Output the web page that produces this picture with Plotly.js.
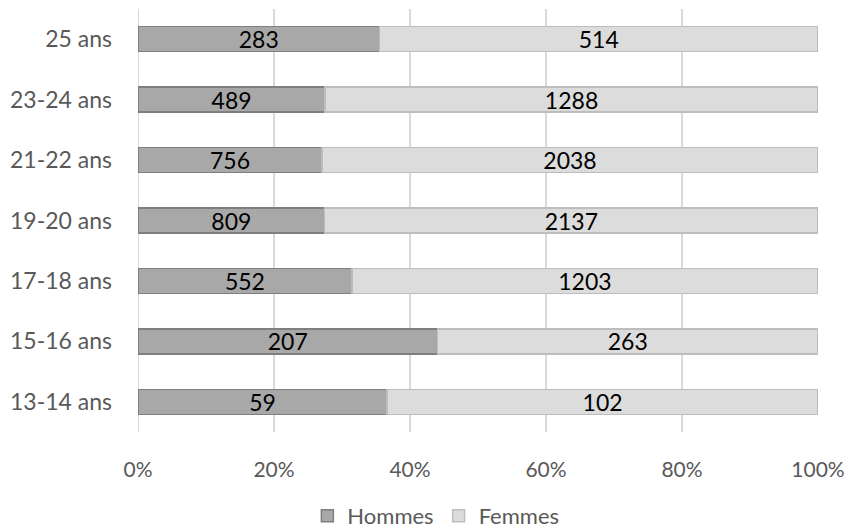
<!DOCTYPE html>
<html>
<head>
<meta charset="utf-8">
<script src="https://cdn.plot.ly/plotly-3.0.1.min.js"></script>
<style>html,body{margin:0;padding:0;background:#fff;}#chart{width:848px;height:532px;}</style>
</head>
<body>
<div id="chart"></div>
<script>
const categories = ["13-14 ans", "15-16 ans", "17-18 ans", "19-20 ans", "21-22 ans", "23-24 ans", "25 ans"];
const hommes = [59, 207, 552, 809, 756, 489, 283];
const femmes = [102, 263, 1203, 2137, 2038, 1288, 514];
const xTickVals = [0, 20, 40, 60, 80, 100];
const xTickText = ["0%", "20%", "40%", "60%", "80%", "100%"];

const font = "Lato, 'Open Sans', sans-serif";

const traces = [
  {
    type: "bar", orientation: "h", name: "Hommes",
    y: categories, x: hommes,
    text: hommes.map(String), textposition: "inside", insidetextanchor: "middle",
    textangle: 0,
    textfont: {family: font, size: 23, color: "#000"},
    constraintext: "none",
    marker: {color: "#a8a8a8", line: {color: "#7f7f7f", width: 1.5}},
    hoverinfo: "none"
  },
  {
    type: "bar", orientation: "h", name: "Femmes",
    y: categories, x: femmes,
    text: femmes.map(String), textposition: "inside", insidetextanchor: "middle",
    textangle: 0,
    textfont: {family: font, size: 23, color: "#000"},
    constraintext: "none",
    marker: {color: "#dcdcdc", line: {color: "#bdbdbd", width: 1.5}},
    hoverinfo: "none"
  }
];

const layout = {
  width: 848, height: 532,
  margin: {l: 138, r: 30, t: 9, b: 100},
  paper_bgcolor: "#fff", plot_bgcolor: "#fff",
  barmode: "stack", barnorm: "percent", bargap: 0.587,
  font: {family: font, size: 22, color: "#595959"},
  xaxis: {
    range: [0, 100], tickvals: xTickVals, ticktext: xTickText,
    showgrid: true, gridcolor: "#d9d9d9", gridwidth: 2,
    zeroline: false, showline: false,
    ticklabelstandoff: 23,
    tickfont: {family: font, size: 21, color: "#595959"},
    fixedrange: true, automargin: false
  },
  yaxis: {
    type: "category", categoryorder: "array", categoryarray: categories,
    showgrid: false, zeroline: false, showline: false,
    ticklabelstandoff: 25,
    tickfont: {family: font, size: 23, color: "#595959"},
    fixedrange: true, automargin: false
  },
  showlegend: true,
  legend: {
    orientation: "h", xref: "container", yref: "container",
    x: 0.514, xanchor: "center", y: 0.03, yanchor: "middle",
    font: {family: font, size: 22, color: "#595959"},
    traceorder: "normal", itemwidth: 30
  },
  shapes: [{
    type: "line", xref: "x", yref: "paper", x0: 0, x1: 0, y0: 0, y1: 1,
    line: {color: "#d9d9d9", width: 2}, layer: "below"
  }]
};

Plotly.newPlot("chart", traces, layout, {displayModeBar: false, staticPlot: true});
</script>
</body>
</html>
